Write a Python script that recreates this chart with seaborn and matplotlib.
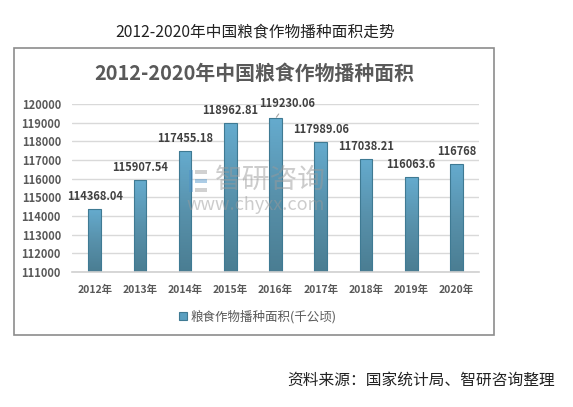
import numpy as np
import pandas as pd
import matplotlib
matplotlib.use("Agg")
import matplotlib.pyplot as plt
import seaborn as sns
from matplotlib.colors import LinearSegmentedColormap
from matplotlib.patches import Rectangle

# data
years = ["2012年", "2013年", "2014年", "2015年", "2016年", "2017年", "2018年", "2019年", "2020年"]
area = [114368.04, 115907.54, 117455.18, 118962.81, 119230.06, 117989.06, 117038.21, 116063.6, 116768]
labels = ["114368.04", "115907.54", "117455.18", "118962.81", "119230.06",
          "117989.06", "117038.21", "116063.6", "116768"]
yticks = [111000, 112000, 113000, 114000, 115000, 116000, 117000, 118000, 119000, 120000]

sns.set_theme(style="white")
plt.rcParams['font.family'] = ['Noto Sans CJK SC', 'DejaVu Sans']

df = pd.DataFrame({"year": years, "area": area})

fig = plt.figure(figsize=(5.73, 4.07), dpi=100)
ax = fig.add_axes([0.1257, 0.3317, 0.7103, 0.4128])

sns.barplot(data=df, x="year", y="area", ax=ax, color="#5a9fc0",
            width=0.28, edgecolor="#3f7a93", linewidth=0.8)

# vertical gradient on each bar, light top -> dark bottom
ymin, ymax = 111000, 120000
grad_cmap = LinearSegmentedColormap.from_list("bar", ["#4a7d92", "#5891ab", "#65abce"])
grad = np.linspace(0, 1, 256).reshape(-1, 1)
for p in ax.patches:
    x0 = p.get_x()
    x1 = x0 + p.get_width()
    top = p.get_height()
    im = ax.imshow(grad, cmap=grad_cmap, origin="lower", aspect="auto",
                   extent=[x0, x1, ymin, top], zorder=p.get_zorder() + 0.1)
    im.set_clip_path(p)
    p.set_facecolor("none")
    p.set_zorder(p.get_zorder() + 0.2)

ax.set_xlim(-0.5, len(years) - 0.5)
ax.set_ylim(ymin, ymax)
ax.set_yticks(yticks)
ax.set_yticklabels([str(t) for t in yticks])
ax.set_xlabel("")
ax.set_ylabel("")
ax.yaxis.grid(True, color="#d9d9d9", linewidth=1)
ax.set_axisbelow(True)
for s in ["top", "right", "left"]:
    ax.spines[s].set_visible(False)
ax.spines["bottom"].set_color("#d0d0d0")
ax.spines["bottom"].set_linewidth(1.2)
ax.tick_params(axis="x", length=0, pad=9, labelsize=7.5, labelcolor="#595959")
ax.tick_params(axis="y", length=0, pad=8, labelsize=8, labelcolor="#595959")
for t in ax.get_xticklabels() + ax.get_yticklabels():
    t.set_fontweight("bold")

# value labels
for i, (v, lab) in enumerate(zip(area, labels)):
    if i == 4:
        ax.annotate(lab, xy=(i, v), xytext=(8, 11), textcoords="offset points",
                    ha="center", va="center", fontsize=8, fontweight="bold", color="#404040",
                    arrowprops=dict(arrowstyle="-", color="#a6a6a6", lw=0.8,
                                    shrinkA=1, shrinkB=1))
    else:
        ax.annotate(lab, xy=(i, v), xytext=(0, 9), textcoords="offset points",
                    ha="center", va="center", fontsize=8, fontweight="bold", color="#404040")

# watermark (logo blocks + text)
fig.text(270 / 573, 1 - 180 / 407, "智研咨询", fontsize=20, color="#9a9a9a", alpha=0.5,
         ha="center", va="center")
fig.text(256 / 573, 1 - 205 / 407, "www.chyxx.com", fontsize=13, color="#9a9a9a", alpha=0.5,
         ha="center", va="center")
for bx, by, bw, bh, bc in [(189, 170, 4, 22, "#4a90c8"), (195, 170, 12, 4, "#9a9a9a"),
                           (195, 179, 12, 4, "#4a90c8"), (195, 188, 12, 4, "#9a9a9a")]:
    fig.patches.append(Rectangle((bx / 573, 1 - (by + bh) / 407), bw / 573, bh / 407,
                                 transform=fig.transFigure, facecolor=bc,
                                 edgecolor="none", alpha=0.45))

# chart frame and titles
fig.patches.append(Rectangle((14 / 573, 1 - 335 / 407), 480 / 573, 287 / 407,
                             transform=fig.transFigure, fill=False,
                             edgecolor="#8c8c8c", linewidth=1.2))
fig.text(254 / 573, 1 - 73 / 407, "2012-2020年中国粮食作物播种面积", fontsize=14.3,
         fontweight="bold", color="#595959", ha="center", va="center")
fig.text(255 / 573, 1 - 32 / 407, "2012-2020年中国粮食作物播种面积走势", fontsize=11.3,
         color="#222222", ha="center", va="center")
fig.text(555 / 573, 1 - 380 / 407, "资料来源：国家统计局、智研咨询整理", fontsize=11.3,
         color="#222222", ha="right", va="center")

# legend
handle = Rectangle((0, 0), 1, 1, facecolor="#5a9fc0", edgecolor="#3f7a93", linewidth=0.8)
fig.legend([handle], ["粮食作物播种面积(千公顷)"], loc="center",
           bbox_to_anchor=(258 / 573, 1 - 317 / 407), frameon=False,
           fontsize=9, handlelength=0.6, handleheight=0.6, handletextpad=0.3,
           labelcolor="#595959")

fig.savefig("out.png", dpi=100)
